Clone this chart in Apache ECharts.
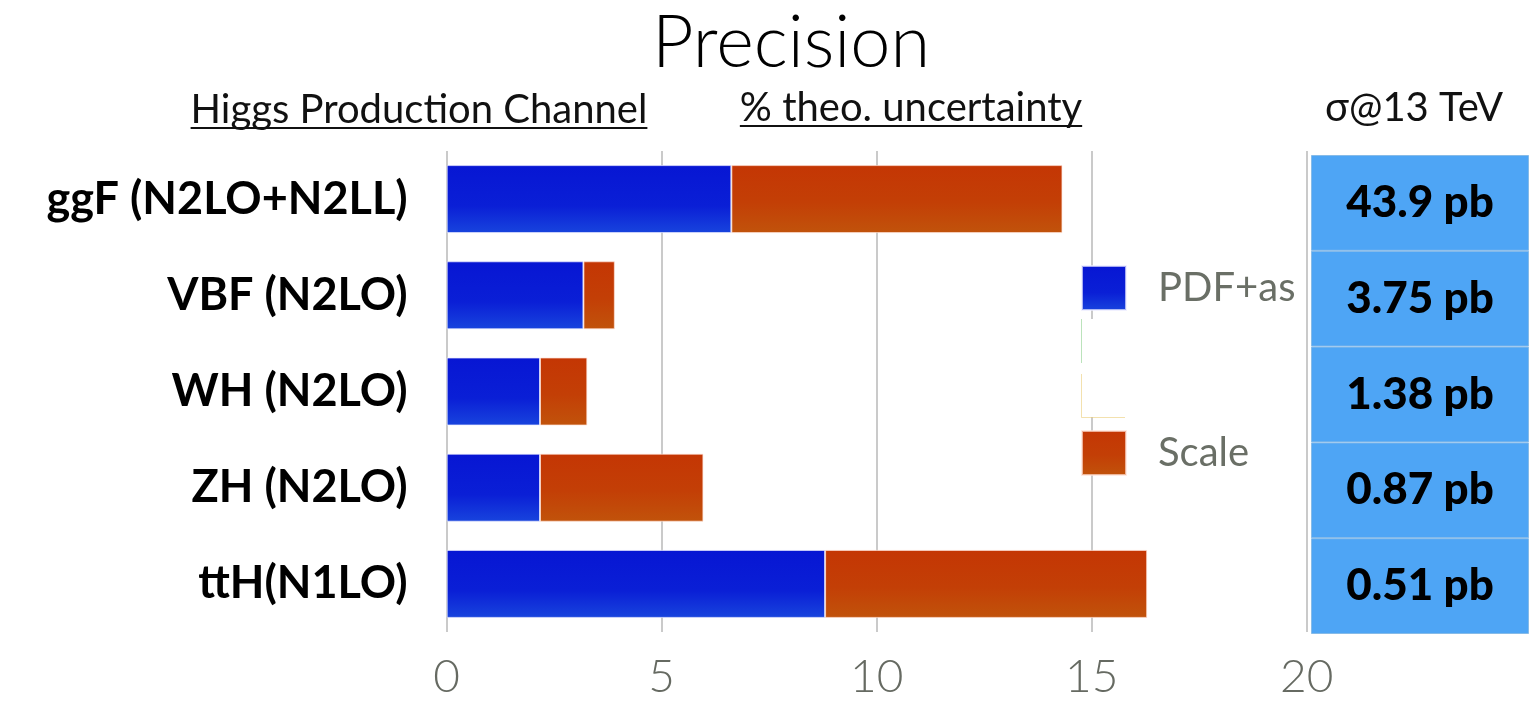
<!DOCTYPE html>
<html>
<head>
<meta charset="utf-8">
<title>Precision</title>
<script src="https://cdn.jsdelivr.net/npm/echarts@6/dist/echarts.min.js"></script>
<style>
  html, body { margin: 0; padding: 0; background: #ffffff; }
  #chart { width: 1538px; height: 701px; }
</style>
</head>
<body>
<div id="chart"></div>
<script>
// Higgs production channels and their theory uncertainties (%)
const channels = ['ggF (N2LO+N2LL)', 'VBF (N2LO)', 'WH (N2LO)', 'ZH (N2LO)', 'ttH(N1LO)'];
const pdfUnc = [6.62, 3.18, 2.17, 2.17, 8.80];
const scaleUnc = [7.70, 0.73, 1.10, 3.80, 7.49];
// cross sections at 13 TeV
const xsec = ['43.9 pb', '3.75 pb', '1.38 pb', '0.87 pb', '0.51 pb'];
const seriesNames = ['PDF+as', 'Scale'];
const axisMin = 0, axisMax = 20, axisStep = 5;

const FONT = 'Lato, "Open Sans", sans-serif';
const chart = echarts.init(document.getElementById('chart'), null, { renderer: 'canvas' });

const blueFill = new echarts.graphic.LinearGradient(0, 0, 0, 1, [
  { offset: 0, color: '#0716d3' },
  { offset: 0.6, color: '#0a1fd6' },
  { offset: 1, color: '#1844dd' }
]);
const orangeFill = new echarts.graphic.LinearGradient(0, 0, 0, 1, [
  { offset: 0, color: '#c43604' },
  { offset: 0.55, color: '#c33f06' },
  { offset: 1, color: '#c1530b' }
]);

// width of a string, used to place the title and size the header underlines
function textWidth(str, font) {
  const c = document.createElement('canvas').getContext('2d');
  c.font = font;
  return c.measureText(str).width;
}

function underlinedHeader(str, cx, cy, size, lineY) {
  const w = textWidth(str, '400 ' + size + 'px ' + FONT);
  return [
    {
      type: 'text', z: 20,
      style: { text: str, x: cx, y: cy, align: 'center', verticalAlign: 'middle',
               font: '400 ' + size + 'px ' + FONT, fill: '#111111' }
    },
    {
      type: 'line', z: 20,
      shape: { x1: cx - w / 2, y1: lineY, x2: cx + w / 2, y2: lineY },
      style: { stroke: '#111111', lineWidth: 2 }
    }
  ];
}

const titleText = 'Precision';
const titleSize = 72;
const titleWidth = textWidth(titleText, '300 ' + titleSize + 'px ' + FONT);

const option = {
  backgroundColor: '#ffffff',
  animation: false,
  title: {
    text: titleText,
    left: 786 - titleWidth / 2,
    top: 3,
    textStyle: { fontFamily: FONT, fontWeight: 300, fontSize: titleSize, color: '#000000' }
  },
  legend: {
    data: seriesNames,
    orient: 'vertical',
    left: 1081,
    top: 265,
    padding: 0,
    itemWidth: 44,
    itemHeight: 44,
    itemGap: 119,
    icon: 'rect',
    textStyle: { fontFamily: FONT, fontSize: 40, color: '#6a6f66', padding: [0, 0, 0, 27] }
  },
  grid: [
    { left: 446.7, width: 860, top: 151, height: 481 },
    { left: 1311, width: 218, top: 155, height: 479 }
  ],
  xAxis: [
    {
      gridIndex: 0,
      type: 'value',
      min: axisMin, max: axisMax, interval: axisStep,
      axisLine: { show: false },
      axisTick: { show: false },
      splitLine: { show: true, lineStyle: { color: '#cacaca', width: 2 } },
      axisLabel: { fontFamily: FONT, fontWeight: 300, fontSize: 46, color: '#666a62', margin: 22 }
    },
    { gridIndex: 1, type: 'value', min: 0, max: 1, show: false }
  ],
  yAxis: [
    {
      gridIndex: 0,
      type: 'category',
      inverse: true,
      data: channels,
      axisLine: { show: false },
      axisTick: { show: false },
      axisLabel: { fontFamily: FONT, fontWeight: 700, fontSize: 45, color: '#000000', margin: 39 }
    },
    { gridIndex: 1, type: 'category', inverse: true, data: channels, show: false }
  ],
  series: [
    {
      name: seriesNames[0],
      type: 'bar',
      stack: 'unc',
      barWidth: 68,
      data: pdfUnc,
      itemStyle: { color: blueFill, borderColor: 'rgba(235,235,255,0.7)', borderWidth: 1 }
    },
    {
      name: seriesNames[1],
      type: 'bar',
      stack: 'unc',
      barWidth: 68,
      data: scaleUnc,
      itemStyle: { color: orangeFill, borderColor: 'rgba(255,225,215,0.7)', borderWidth: 1 }
    },
    {
      // cross-section table cells, one per channel
      name: 'xsec',
      type: 'bar',
      xAxisIndex: 1,
      yAxisIndex: 1,
      barWidth: '100%',
      barCategoryGap: '0%',
      silent: true,
      data: channels.map(() => 1),
      itemStyle: { color: '#4ea5f5', borderColor: '#86bbe8', borderWidth: 1 },
      label: {
        show: true,
        position: 'inside',
        formatter: p => xsec[p.dataIndex],
        fontFamily: FONT, fontWeight: 900, fontSize: 44, color: '#000000'
      }
    }
  ],
  graphic: [
    ...underlinedHeader('Higgs Production Channel', 419, 110, 40, 128),
    ...underlinedHeader('% theo. uncertainty', 911, 108, 40, 126),
    {
      type: 'text', z: 20,
      style: { text: 'σ@13 TeV', x: 1414, y: 108, align: 'center', verticalAlign: 'middle',
               font: '400 40px ' + FONT, fill: '#111111' }
    },
    // blank legend slots between the two entries
    {
      type: 'rect', z: 20,
      shape: { x: 1081, y: 319, width: 44, height: 98 },
      style: { fill: '#ffffff' }
    },
    {
      type: 'line', z: 21,
      shape: { x1: 1081.5, y1: 319, x2: 1081.5, y2: 363 },
      style: { stroke: 'rgba(120,200,120,0.5)', lineWidth: 1 }
    },
    {
      type: 'polyline', z: 21,
      shape: { points: [[1081.5, 374], [1081.5, 417.5], [1125, 417.5]] },
      style: { stroke: 'rgba(235,205,120,0.6)', lineWidth: 1, fill: null }
    }
  ]
};

chart.setOption(option);
</script>
</body>
</html>
